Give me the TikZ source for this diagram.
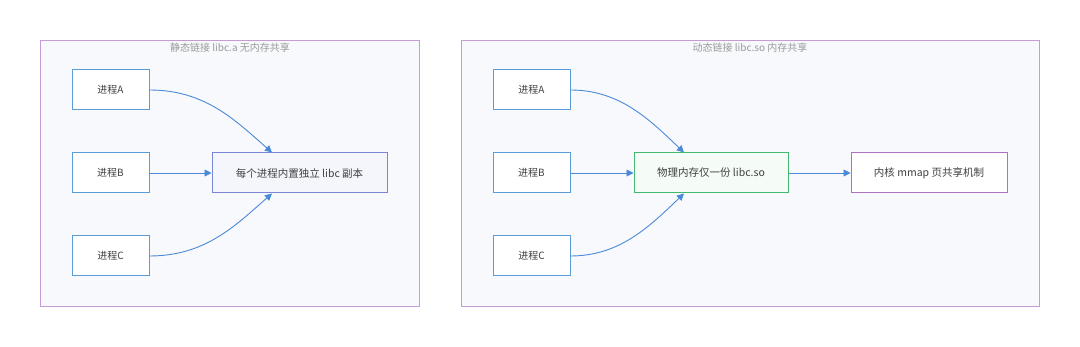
\documentclass[tikz,border=0pt]{standalone}
\usepackage{fontspec}
\setmainfont{Noto Sans CJK SC}
\usetikzlibrary{arrows.meta}
\definecolor{clfill}{HTML}{F8F9FC}
\definecolor{clborder}{HTML}{C79BD6}
\definecolor{titlegray}{HTML}{9A9A9A}
\definecolor{procblue}{HTML}{5B9BD9}
\definecolor{arrowblue}{HTML}{4A8AD8}
\definecolor{midindigo}{HTML}{7B85D8}
\definecolor{midfill}{HTML}{F5F6FC}
\definecolor{greenb}{HTML}{45B870}
\definecolor{greenfill}{HTML}{F5FBF7}
\definecolor{purpleb}{HTML}{AD72C3}
\definecolor{txt}{HTML}{404040}
\tikzset{
  cluster/.style={draw=clborder, fill=clfill, line width=0.8pt},
  ctitle/.style={text=titlegray, font=\fontsize{10}{12}\selectfont, inner sep=0pt},
  proc/.style={draw=procblue, fill=white, line width=1pt, minimum width=77pt, minimum height=40pt, inner sep=0pt, text=txt, font=\fontsize{10}{12}\selectfont},
  box/.style={line width=1pt, minimum height=40pt, inner sep=0pt, text=txt, font=\fontsize{10.5}{12}\selectfont},
  conn/.style={draw=arrowblue, line width=0.9pt, -{Triangle[length=7pt,width=7pt]}}
}
\begin{document}
\begin{tikzpicture}[x=1pt,y=-1pt]
\useasboundingbox[fill=white] (0,0) rectangle (1080,347);
% clusters
\draw[cluster] (40,40) rectangle (419,306);
\node[ctitle] (t1) at (230,48) {静态链接 libc.a 无内存共享};
\draw[cluster] (461,40) rectangle (1039,306);
\node[ctitle] (t2) at (750,48) {动态链接 libc.so 内存共享};
% left
\node[proc] (a1) at (110.5,90) {进程A};
\node[proc] (b1) at (110.5,173) {进程B};
\node[proc] (c1) at (110.5,256) {进程C};
\node[box, draw=midindigo, fill=midfill, minimum width=175pt] (m1) at (299.5,173) {每个进程内置独立 libc 副本};
% right
\node[proc] (a2) at (531.5,90) {进程A};
\node[proc] (b2) at (531.5,173) {进程B};
\node[proc] (c2) at (531.5,256) {进程C};
\node[box, draw=greenb, fill=greenfill, minimum width=154pt] (m2) at (711,173) {物理内存仅一份 libc.so};
\node[box, draw=purpleb, fill=white, minimum width=156pt] (k2) at (929,173) {内核 mmap 页共享机制};
% connectors
\draw[conn] (a1.east) .. controls (205,90) and (235,120) .. ([xshift=-27.5pt]m1.north);
\draw[conn] (b1.east) -- (m1.west);
\draw[conn] (c1.east) .. controls (205,256) and (235,226) .. ([xshift=-27.5pt]m1.south);
\draw[conn] (a2.east) .. controls (620,90) and (650,120) .. ([xshift=-27pt]m2.north);
\draw[conn] (b2.east) -- (m2.west);
\draw[conn] (c2.east) .. controls (620,256) and (650,226) .. ([xshift=-27pt]m2.south);
\draw[conn] (m2.east) -- (k2.west);
\end{tikzpicture}
\end{document}
